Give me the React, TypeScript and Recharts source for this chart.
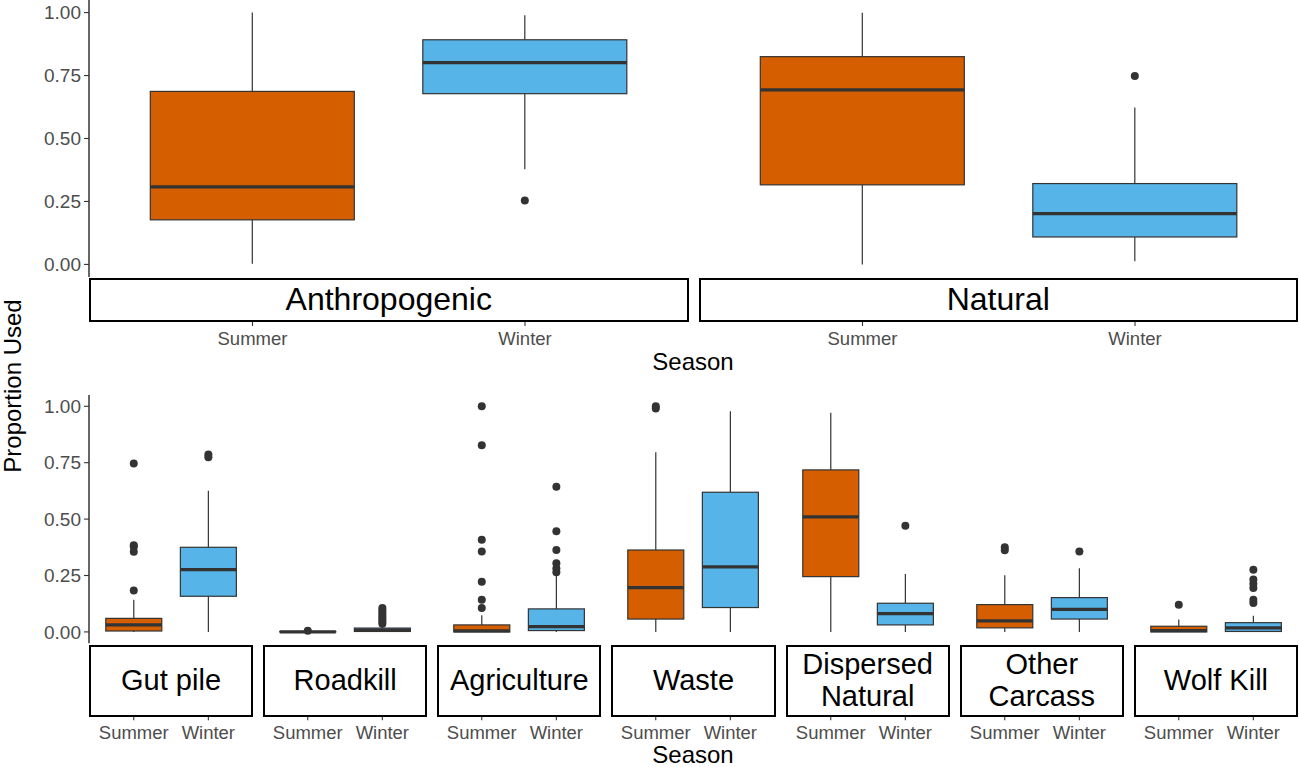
import React from 'react'
import { ComposedChart, Bar, XAxis, YAxis } from 'recharts'

type Box = { season: string; lo: number; q1: number; med: number; q3: number; hi: number; out: number[] }

const SEASON_COLORS: Record<string, string> = { Summer: '#D55E00', Winter: '#56B4E9' }
const Y_TICKS = [0, 0.25, 0.5, 0.75, 1]
const Y_DOMAIN = [-0.05, 1.05]

// top row
const ANTHROPOGENIC: Box[] = [
  { season: 'Summer', lo: 0.003, q1: 0.177, med: 0.308, q3: 0.687, hi: 1.0, out: [] },
  { season: 'Winter', lo: 0.378, q1: 0.678, med: 0.801, q3: 0.892, hi: 0.989, out: [0.254] },
]
const NATURAL: Box[] = [
  { season: 'Summer', lo: 0.0, q1: 0.316, med: 0.693, q3: 0.825, hi: 0.999, out: [] },
  { season: 'Winter', lo: 0.013, q1: 0.109, med: 0.202, q3: 0.321, hi: 0.623, out: [0.748] },
]

// bottom row
const GUT_PILE: Box[] = [
  { season: 'Summer', lo: 0, q1: 0.004, med: 0.031, q3: 0.06, hi: 0.143, out: [0.184, 0.355, 0.377, 0.384, 0.746] },
  { season: 'Winter', lo: 0, q1: 0.158, med: 0.276, q3: 0.375, hi: 0.626, out: [0.774, 0.786] },
]
const ROADKILL: Box[] = [
  { season: 'Summer', lo: 0, q1: 0, med: 0, q3: 0.002, hi: 0.002, out: [0.005] },
  { season: 'Winter', lo: 0, q1: 0.002, med: 0.008, q3: 0.017, hi: 0.03, out: [0.036, 0.045, 0.055, 0.065, 0.075, 0.085, 0.095, 0.106] },
]
const AGRICULTURE: Box[] = [
  { season: 'Summer', lo: 0, q1: 0, med: 0.005, q3: 0.031, hi: 0.074, out: [0.106, 0.142, 0.222, 0.356, 0.408, 0.827, 1.0] },
  { season: 'Winter', lo: 0, q1: 0.006, med: 0.023, q3: 0.102, hi: 0.255, out: [0.264, 0.281, 0.304, 0.363, 0.446, 0.643] },
]
const WASTE: Box[] = [
  { season: 'Summer', lo: 0, q1: 0.057, med: 0.196, q3: 0.363, hi: 0.796, out: [0.99, 1.0] },
  { season: 'Winter', lo: 0, q1: 0.108, med: 0.288, q3: 0.619, hi: 0.978, out: [] },
]
const DISPERSED_NATURAL: Box[] = [
  { season: 'Summer', lo: 0, q1: 0.245, med: 0.51, q3: 0.718, hi: 0.971, out: [] },
  { season: 'Winter', lo: 0, q1: 0.031, med: 0.081, q3: 0.127, hi: 0.257, out: [0.471] },
]
const OTHER_CARCASS: Box[] = [
  { season: 'Summer', lo: 0, q1: 0.018, med: 0.049, q3: 0.121, hi: 0.251, out: [0.362, 0.375] },
  { season: 'Winter', lo: 0, q1: 0.057, med: 0.1, q3: 0.152, hi: 0.282, out: [0.356] },
]
const WOLF_KILL: Box[] = [
  { season: 'Summer', lo: 0, q1: 0, med: 0.006, q3: 0.025, hi: 0.055, out: [0.12] },
  { season: 'Winter', lo: 0, q1: 0.002, med: 0.018, q3: 0.041, hi: 0.072, out: [0.128, 0.143, 0.195, 0.214, 0.232, 0.276] },
]

const TOP_FACETS = [
  { name: 'Anthropogenic', boxes: ANTHROPOGENIC },
  { name: 'Natural', boxes: NATURAL },
]
const BOTTOM_FACETS = [
  { name: 'Gut pile', boxes: GUT_PILE },
  { name: 'Roadkill', boxes: ROADKILL },
  { name: 'Agriculture', boxes: AGRICULTURE },
  { name: 'Waste', boxes: WASTE },
  { name: 'Dispersed\nNatural', boxes: DISPERSED_NATURAL },
  { name: 'Other\nCarcass', boxes: OTHER_CARCASS },
  { name: 'Wolf Kill', boxes: WOLF_KILL },
]

const FONT = '"Liberation Sans", Arial, Helvetica, sans-serif'
const INK = '#333333'
const AXIS_W = 60

function BoxShape(props: any) {
  const { x, y, width, height, payload } = props
  const [a, b] = payload.range
  const top = Math.min(y, y + height)
  const bottom = Math.max(y, y + height)
  const py = (v: number) => bottom - ((v - a) / (b - a)) * (bottom - top)
  const cx = x + width / 2
  const q1 = py(payload.q1), q3 = py(payload.q3)
  return (
    <g>
      <line x1={cx} x2={cx} y1={py(payload.hi)} y2={q3} stroke={INK} strokeWidth={1.2} />
      <line x1={cx} x2={cx} y1={py(payload.lo)} y2={q1} stroke={INK} strokeWidth={1.2} />
      <rect x={x} y={q3} width={width} height={Math.max(q1 - q3, 0)} fill={SEASON_COLORS[payload.season]} stroke={INK} strokeWidth={1.2} />
      <line x1={x} x2={x + width} y1={py(payload.med)} y2={py(payload.med)} stroke={INK} strokeWidth={3.2} />
      {payload.out.map((v: number, i: number) => (
        <circle key={i} cx={cx} cy={py(v)} r={4} fill={INK} />
      ))}
    </g>
  )
}

function SeasonTick(props: any) {
  const { x, y, payload, stripH } = props
  return (
    <g>
      <line x1={x} x2={x} y1={y + stripH} y2={y + stripH + 4} stroke={INK} strokeWidth={1.1} />
      <text x={x} y={y + stripH + 22.5} textAnchor="middle" fill="#4d4d4d" fontSize={18.5} fontFamily={FONT}>
        {payload.value}
      </text>
    </g>
  )
}

function Panel({ name, boxes, left, top, width, plotH, axisH, stripH, stripFont, showY }: {
  name: string; boxes: Box[]; left: number; top: number; width: number; plotH: number
  axisH: number; stripH: number; stripFont: number; showY: boolean
}) {
  const rows = boxes.map(bx => ({
    ...bx,
    range: [Math.min(bx.lo, ...bx.out), Math.max(bx.hi, ...bx.out)],
  }))
  const pad = width * 0.04545
  const yW = showY ? AXIS_W : 0
  return (
    <>
      <div style={{ position: 'absolute', left: left - yW, top }}>
        <ComposedChart
          width={width + yW}
          height={plotH + axisH}
          data={rows}
          margin={{ top: 0, right: 0, bottom: 0, left: 0 }}
          barCategoryGap="12.5%"
        >
          <XAxis
            dataKey="season"
            type="category"
            height={axisH}
            padding={{ left: pad, right: pad }}
            axisLine={false}
            tickLine={false}
            tickSize={0}
            tickMargin={0}
            interval={0}
            tick={<SeasonTick stripH={stripH} />}
          />
          <YAxis
            type="number"
            domain={Y_DOMAIN}
            allowDataOverflow
            ticks={Y_TICKS}
            hide={!showY}
            width={yW}
            tickFormatter={(v: number) => v.toFixed(2)}
            tick={{ fill: '#4d4d4d', fontSize: 19, fontFamily: FONT }}
            tickSize={5}
            tickMargin={3}
            axisLine={{ stroke: '#000', strokeWidth: 1.2 }}
            tickLine={{ stroke: INK, strokeWidth: 1.1 }}
          />
          <Bar dataKey="range" shape={<BoxShape />} isAnimationActive={false} />
        </ComposedChart>
      </div>
      <div
        style={{
          position: 'absolute', left, top: top + plotH + 1, width, height: stripH - 1,
          boxSizing: 'border-box', border: '2px solid #000', background: '#fff',
          display: 'flex', alignItems: 'center', justifyContent: 'center', textAlign: 'center',
          fontFamily: FONT, fontSize: stripFont, lineHeight: 1.1, color: '#000', whiteSpace: 'pre-line',
        }}
      >
        {name}
      </div>
    </>
  )
}

export default function App() {
  const x0 = 89
  const topW = 599.5
  const botW = 164.1
  const gap = 10
  return (
    <div style={{ position: 'absolute', left: 0, top: 0, width: 1299, height: 767, background: '#fff', fontFamily: FONT, overflow: 'hidden' }}>
      {TOP_FACETS.map((f, i) => (
        <Panel key={f.name} name={f.name} boxes={f.boxes} left={x0 + i * (topW + gap)} top={0}
          width={topW} plotH={277} axisH={76} stripH={45} stripFont={32} showY={i === 0} />
      ))}
      {BOTTOM_FACETS.map((f, i) => (
        <Panel key={f.name} name={f.name} boxes={f.boxes} left={x0 + i * (botW + 10.05)} top={395.4}
          width={botW} plotH={248.2} axisH={108} stripH={73} stripFont={29} showY={i === 0} />
      ))}
      <div style={{ position: 'absolute', left: 593, width: 200, top: 350, textAlign: 'center', fontSize: 24, lineHeight: '24px', color: '#000' }}>Season</div>
      <div style={{ position: 'absolute', left: 593, width: 200, top: 745, textAlign: 'center', fontSize: 24, lineHeight: '20px', color: '#000' }}>Season</div>
      <div style={{ position: 'absolute', left: 13, top: 386, width: 0, height: 0 }}>
        <div style={{ position: 'absolute', left: -120, top: -14, width: 240, textAlign: 'center', fontSize: 24, lineHeight: '28px', color: '#000', transform: 'rotate(-90deg)' }}>
          Proportion Used
        </div>
      </div>
    </div>
  )
}
